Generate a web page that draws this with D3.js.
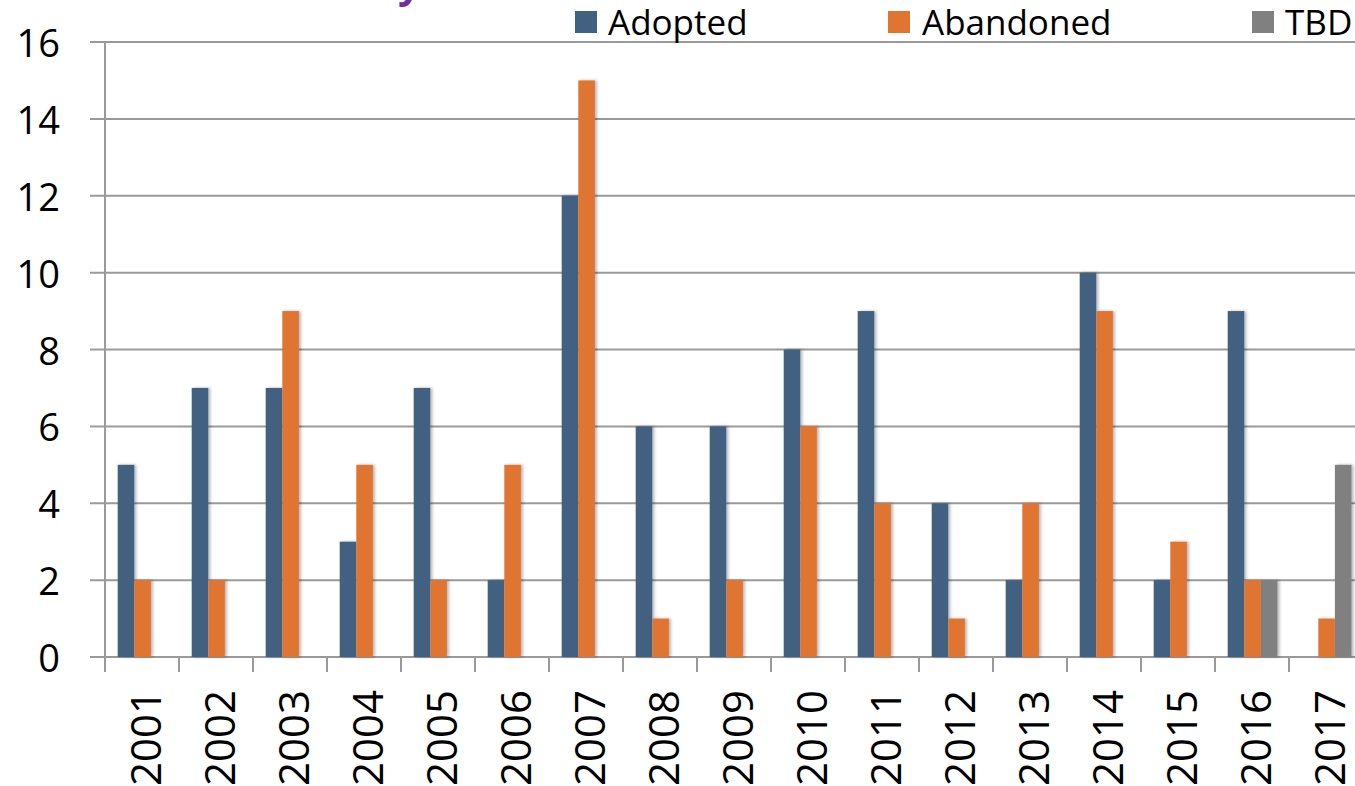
<!DOCTYPE html>
<html>
<head>
<meta charset="utf-8">
<script src="https://cdn.jsdelivr.net/npm/d3@7/dist/d3.min.js"></script>
<style>
  html, body { margin: 0; padding: 0; background: #fff; overflow: hidden; }
  svg { display: block; font-family: "Open Sans", "Liberation Sans", sans-serif; }
</style>
</head>
<body>
<svg id="chart" width="1355" height="786"></svg>
<script>
const years = ["2001","2002","2003","2004","2005","2006","2007","2008","2009","2010","2011","2012","2013","2014","2015","2016","2017"];
const adopted   = [5, 7, 7, 3, 7, 2, 12, 6, 6, 8, 9, 4, 2, 10, 2, 9, 0];
const abandoned = [2, 2, 9, 5, 2, 5, 15, 1, 2, 6, 4, 1, 4, 9, 3, 2, 1];
const tbd       = [0, 0, 0, 0, 0, 0, 0, 0, 0, 0, 0, 0, 0, 0, 0, 2, 5];
const seriesNames = ["Adopted", "Abandoned", "TBD"];
const seriesColors = ["#426080", "#E07532", "#808080"];
const yTicks = [0, 2, 4, 6, 8, 10, 12, 14, 16];

const svg = d3.select("#chart");
const left = 105, bandW = 74;
const x = d3.scaleBand().domain(years).range([left, left + bandW * years.length]).paddingInner(0).paddingOuter(0);
const y = d3.scaleLinear().domain([0, 16]).range([657, 42]);
const barW = 16.6;
const clusterOffset = (x.bandwidth() - barW * 3) / 2 + 0.6;

// shadow filter
const defs = svg.append("defs");
const f = defs.append("filter").attr("id", "sh").attr("x", "-50%").attr("y", "-10%").attr("width", "200%").attr("height", "120%");
f.append("feDropShadow").attr("dx", 2).attr("dy", 0).attr("stdDeviation", 1.8).attr("flood-color", "#000").attr("flood-opacity", 0.28);

// gridlines
const grid = svg.append("g");
grid.selectAll("line").data(yTicks).join("line")
  .attr("x1", 90).attr("x2", 1355)
  .attr("y1", d => y(d)).attr("y2", d => y(d))
  .attr("stroke", "#9a9a9a").attr("stroke-width", 2);

// y axis line
svg.append("line").attr("x1", left).attr("x2", left).attr("y1", y(16)).attr("y2", 672)
  .attr("stroke", "#9a9a9a").attr("stroke-width", 2);

// y labels
svg.append("g").selectAll("text").data(yTicks).join("text")
  .attr("x", 60).attr("y", d => y(d))
  .attr("text-anchor", "end").attr("dominant-baseline", "central")
  .attr("font-size", 38).attr("fill", "#000")
  .text(d => d);

// x ticks
svg.append("g").selectAll("line").data(years.map((d, i) => i).concat([years.length])).join("line")
  .attr("x1", i => left + i * x.step()).attr("x2", i => left + i * x.step())
  .attr("y1", y(0)).attr("y2", 672)
  .attr("stroke", "#9a9a9a").attr("stroke-width", 2);

// bars
const data = [adopted, abandoned, tbd];
data.forEach((vals, si) => {
  svg.append("g").attr("filter", "url(#sh)").selectAll("rect").data(years.map((yr, i) => ({yr, v: vals[i]})).filter(d => d.v > 0)).join("rect")
    .attr("x", d => x(d.yr) + clusterOffset + si * barW)
    .attr("width", barW)
    .attr("y", d => y(d.v))
    .attr("height", d => y(0) - y(d.v))
    .attr("fill", seriesColors[si]);
});

// x labels
svg.append("g").selectAll("text").data(years).join("text")
  .attr("transform", d => `translate(${x(d) + x.bandwidth() / 2 + 2},690) rotate(-90)`)
  .attr("text-anchor", "end").attr("dominant-baseline", "central")
  .attr("font-size", 42).attr("fill", "#000")
  .text(d => d);

// legend
const legendPos = [{sx: 575, tx: 608}, {sx: 888, tx: 922}, {sx: 1252, tx: 1285}];
const lg = svg.append("g");
seriesNames.forEach((name, i) => {
  lg.append("rect").attr("x", legendPos[i].sx).attr("y", 11).attr("width", 22).attr("height", 22).attr("fill", seriesColors[i]);
  lg.append("text").attr("x", legendPos[i].tx).attr("y", 35).attr("font-size", 35).attr("fill", "#000").text(name);
});

// partially visible title (cut off at top)
svg.append("text").attr("x", 398).attr("y", -2).attr("font-size", 40).attr("font-weight", "bold")
  .attr("fill", "#7030A0").text("y");
</script>
</body>
</html>
